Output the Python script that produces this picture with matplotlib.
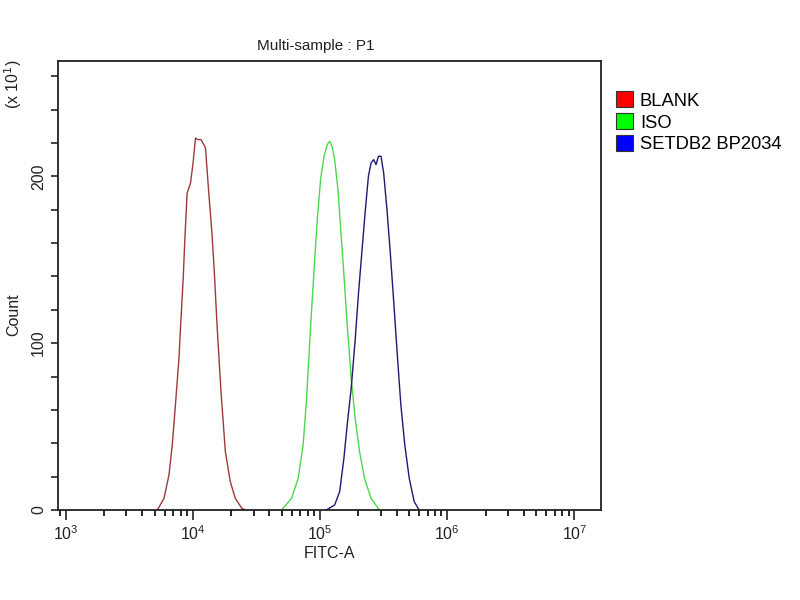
import matplotlib
matplotlib.use("Agg")
import matplotlib.pyplot as plt
from matplotlib.patches import Patch
from matplotlib.ticker import LogLocator, FixedLocator, NullFormatter, LogFormatterMathtext

plt.rcParams['font.family'] = ['Liberation Sans', 'DejaVu Sans']

# histogram outlines (FITC-A value, count)
blank_x = [5260, 5930, 6490, 6890, 7330, 7780, 8020, 8400, 8660, 9020, 9590, 10040, 10490,
           10940, 11610, 12190, 12570, 13340, 14160, 14790, 15490, 16640, 18010, 19700,
           21560, 24270, 25800]
blank_y = [0, 7, 21, 39, 65, 91, 111, 139, 163, 190, 196, 208, 223,
           222, 222, 219, 217, 190, 165, 141, 111, 71, 35, 17, 7, 1, 0]

iso_x = [49900, 59700, 67300, 73600, 78100, 81600, 85500, 90900, 95300, 101200, 107400,
         114000, 119000, 124100, 130200, 138300, 146700, 154000, 163400, 175700, 188800,
         204300, 223500, 251600, 292600]
iso_y = [0, 7, 19, 39, 65, 91, 118, 151, 175, 199, 212,
         219, 221, 218, 210, 192, 164, 141, 111, 79, 55, 35, 19, 7, 0]

setdb2_x = [111900, 130200, 142600, 154000, 163400, 175700, 188800, 200600, 212800, 225900,
            239900, 251600, 264100, 275300, 287600, 301300, 316200, 335700, 356700, 378400,
            406500, 431600, 463600, 502300, 549500, 601400]
setdb2_y = [0, 3, 11, 31, 51, 73, 102, 130, 154, 178,
            200, 208, 210, 207, 212, 212, 202, 180, 154, 126,
            91, 63, 39, 19, 5, 0]

labels = ['BLANK', 'ISO', 'SETDB2 BP2034']
line_colors = ['#9e3a3a', '#4cd84c', '#1c1c70']
box_colors = ['#ff0000', '#00ff00', '#0000ff']

fig = plt.figure(figsize=(8, 6), dpi=100)
ax = fig.add_axes([0.0725, 0.15, 0.679, 0.748])

for xs, ys, c in zip([blank_x, iso_x, setdb2_x], [blank_y, iso_y, setdb2_y], line_colors):
    ax.plot(xs, ys, color=c, lw=1.0)

ax.set_xscale('log')
ax.set_xlim(10 ** 2.94, 10 ** 7.21)
ax.set_ylim(0, 269)

ax.xaxis.set_major_locator(FixedLocator([1e3, 1e4, 1e5, 1e6, 1e7]))
ax.xaxis.set_major_formatter(LogFormatterMathtext())
ax.xaxis.set_minor_locator(LogLocator(base=10, subs=range(2, 10), numticks=20))
ax.xaxis.set_minor_formatter(NullFormatter())

ax.set_yticks(range(0, 261, 20))
ax.set_yticklabels(['0' if v == 0 else str(v) if v % 100 == 0 else '' for v in range(0, 261, 20)],
                   rotation=90, va='center')

ax.tick_params(axis='both', direction='out', length=5, width=1.2, labelsize=11.5, colors='#222222')
ax.tick_params(axis='x', which='minor', direction='out', length=4, width=1.2)
ax.tick_params(axis='x', which='major', length=7)
for s in ax.spines.values():
    s.set_linewidth(1.3)
    s.set_color('#222222')

ax.set_xlabel('FITC-A', fontsize=11.5, labelpad=2, color='#222222')
fig.text(0.017, 0.475, 'Count', rotation=90, fontsize=11.5, ha='center', va='center', color='#222222')
fig.text(0.017, 0.86, r'(x 10$^{1}$)', rotation=90, fontsize=11.5, ha='center', va='center', color='#222222')
fig.text(0.395, 0.924, 'Multi-sample : P1', fontsize=11, ha='center', va='center', color='#222222')

handles = [Patch(facecolor=c, edgecolor='#333333', lw=0.8) for c in box_colors]
fig.legend(handles, labels, loc='upper left', bbox_to_anchor=(0.754, 0.869), frameon=False,
           fontsize=13.2, handlelength=0.95, handleheight=0.95, handletextpad=0.35,
           labelspacing=0.2, borderpad=0.2)

fig.savefig('out.png', dpi=100)
